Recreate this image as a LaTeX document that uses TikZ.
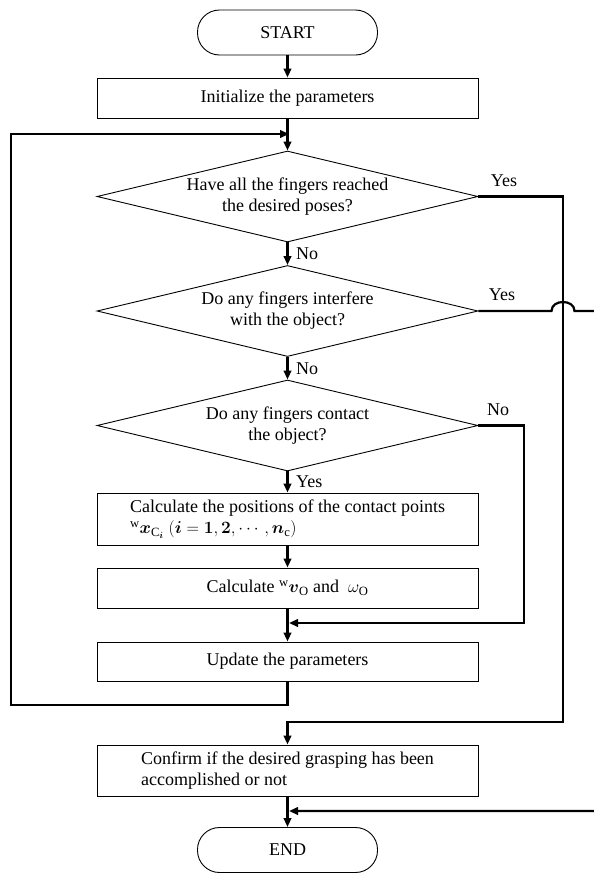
\documentclass[tikz,border=0pt]{standalone}
\usepackage{fontspec}
\setmainfont{Liberation Serif}
\usepackage{amsmath}
\usetikzlibrary{shapes.geometric,arrows.meta}

\tikzset{
    box/.style={draw, line width=0.9pt, minimum width=381pt, inner sep=0pt, align=center},
    term/.style={draw, line width=0.9pt, rounded corners=22pt, minimum width=180pt, minimum height=45pt},
    query/.style={draw, diamond, line width=0.9pt, aspect=4.19, inner sep=0pt, minimum width=381pt, minimum height=91pt, align=center},
    flow/.style={line width=2.2pt, -{Triangle[length=9pt,width=7.5pt]}},
    tag/.style={inner sep=0pt}
}

\begin{document}
\begin{tikzpicture}[x=1pt, y=-1pt, font=\fontsize{18}{21}\selectfont]
    \useasboundingbox (0,0) rectangle (594,873);

    % Blocks
    \node[term] (start) at (287.5, 32.5) {START};
    \node[box, minimum height=40pt] (init) at (287.5, 98) {Initialize the parameters};
    \node[query] (reached) at (287.5, 196.5) {Have all the fingers reached\\the desired poses?};
    \node[query] (interfere) at (287.5, 311) {Do any fingers interfere\\with the object?};
    \node[query] (contact) at (287.5, 425.5) {Do any fingers contact\\the object?};
    \node[box, minimum height=52pt, align=left] (points) at (287.5, 519)
        {Calculate the positions of the contact points\\
         $^{\mathrm{w}}\boldsymbol{x}_{\mathrm{C}_{\boldsymbol{i}}}\ (\boldsymbol{i}=\boldsymbol{1},\boldsymbol{2},\cdots,\boldsymbol{n}_{\mathrm{c}})$};
    \node[box, minimum height=40pt] (velocity) at (287.5, 588) {Calculate $^{\mathrm{w}}\boldsymbol{v}_{\mathrm{O}}$ and \ $\omega_{\mathrm{O}}$};
    \node[box, minimum height=39pt] (update) at (287.5, 661.5) {Update the parameters};
    \node[box, minimum height=51pt, align=left] (confirm) at (287.5, 770.5)
        {Confirm if the desired grasping has been\\accomplished or not};
    \node[term] (stop) at (287.5, 850) {END};

    % Bends
    \coordinate (loopA) at (289, 134);
    \coordinate (loopB) at (287.5, 705);
    \coordinate (loopC) at (11, 705);
    \coordinate (loopD) at (11, 134);
    \coordinate (yesA) at (563, 196.5);
    \coordinate (yesB) at (563, 722);
    \coordinate (yesC) at (287.5, 722);
    \coordinate (hopL) at (551.5, 311);
    \coordinate (hopR) at (574.5, 311);
    \coordinate (yesD) at (598, 311);
    \coordinate (yesE) at (598, 811);
    \coordinate (yesF) at (289, 811);
    \coordinate (noA) at (524, 425.5);
    \coordinate (noB) at (524, 623);
    \coordinate (noC) at (289, 623);

    % Draw
    \foreach \a/\b in {start/init, init/reached, reached/interfere, interfere/contact, contact/points, points/velocity, velocity/update, confirm/stop}
        \draw[flow] (\a) -- (\b);

    \draw[flow] (update.south) -- (loopB) -- (loopC) -- (loopD) -- (loopA);
    \draw[flow] (reached.east) -- (yesA) -- (yesB) -- (yesC) -- (confirm.north);
    \draw[flow] (interfere.east) -- (hopL) .. controls (551.5, 299) and (574.5, 299) .. (hopR) -- (yesD) -- (yesE) -- (yesF);
    \draw[flow] (contact.east) -- (noA) -- (noB) -- (noC);

    % Labeling
    \node[tag, anchor=west] (noOne) at (296, 254) {No};
    \node[tag, anchor=west] (noTwo) at (296, 369) {No};
    \node[tag, anchor=west] (yesThree) at (296, 482) {Yes};
    \node[tag] (yesOne) at (504, 181) {Yes};
    \node[tag] (yesTwo) at (502, 295) {Yes};
    \node[tag] (noThree) at (498, 410) {No};
\end{tikzpicture}
\end{document}
